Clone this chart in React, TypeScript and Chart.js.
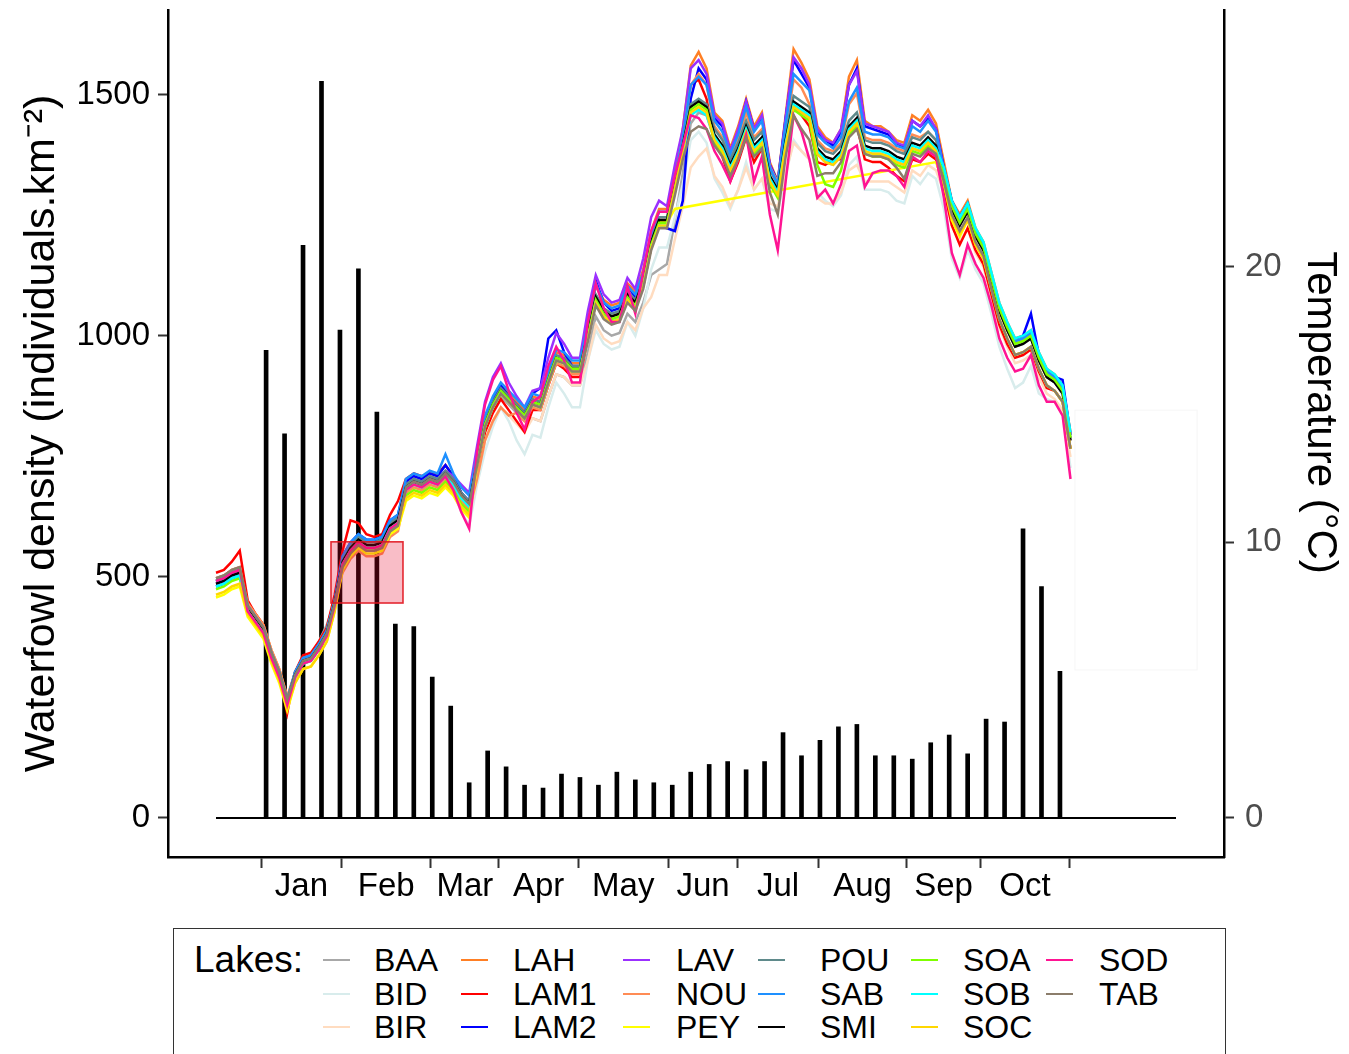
import React, { useEffect, useRef } from 'react';
import { Chart, registerables } from 'chart.js';

Chart.register(...registerables);

const FONT = '"Liberation Sans", Arial, Helvetica, sans-serif';

// ---- x axis: day index of the study year ----
const X_MIN = -18.2;
const X_MAX = 382.2;
const MONTH_BREAKS = [17.1, 47.7, 81.4, 107.3, 137.4, 171.4, 197.9, 228.3, 262.0, 289.7, 323.7];
const MONTHS = ['Jan', 'Feb', 'Mar', 'Apr', 'May', 'Jun', 'Jul', 'Aug', 'Sep', 'Oct'];
const DATA_SPAN = [0, 364];

// ---- waterfowl density (weekly bars, left axis) ----
const BAR_DAYS = [19, 26, 33, 40, 47, 54, 61, 68, 75, 82, 89, 96, 103, 110, 117, 124, 131, 138, 145, 152, 159, 166, 173, 180, 187, 194, 201, 208, 215, 222, 229, 236, 243, 250, 257, 264, 271, 278, 285, 292, 299, 306, 313, 320];
const DENSITY = [970, 797, 1188, 1528, 1012, 1139, 842, 402, 397, 292, 232, 73, 139, 106, 68, 62, 91, 84, 68, 95, 79, 73, 68, 95, 111, 117, 100, 117, 177, 129, 161, 189, 194, 129, 129, 122, 156, 172, 133, 205, 199, 600, 480, 304];
const DENSITY_TICKS = [0, 500, 1000, 1500];
const Y_MIN = -81;
const Y_MAX = 1676;

// ---- temperature (lines, right axis) ----
const T_MIN = -1.417;
const T_MAX = 29.32;
const TEMP_TICKS = [0, 10, 20];
const TEMP_DAYS = Array.from({ length: 109 }, (_, i) => i * 3);

const BAA = [8.7,8.8,9.0,9.1,7.6,7.2,6.8,5.9,5.2,4.2, 5.3,5.8,5.9,6.4,7.0,7.9,9.2,9.7,10.0,9.8, 9.8,9.9,10.5,10.7,12.0,12.2,12.1,12.3,12.2,12.5, 12.2,11.7,11.4,12.7,14.1,14.8,15.3,15.0,14.7,14.4, 14.5,14.4,15.3,16.1,16.0,15.7,15.7,16.9,18.2,17.7, 17.5,17.6,18.3,18.0,18.7,19.7,19.9,20.1,21.7,23.4, 25.2,25.6,25.5,24.6,24.2,23.5,24.1,24.9,24.2,24.5, 23.1,22.6,24.4,25.8,25.6,25.4,24.1,23.8,23.7,24.0, 24.9,25.2,24.2,24.1,24.1,24.0,23.8,23.7,24.3,24.2, 24.5,24.2,23.3,22.1,21.5,22.0,21.1,20.6,19.5,18.4, 17.7,17.1,17.2,17.4,16.6,16.0,15.8,15.4,13.7];
const BID = [8.6,8.7,8.9,9.0,7.6,7.2,6.8,5.9,5.2,4.2, 5.2,5.7,5.8,6.2,6.7,7.8,9.3,9.6,9.9,9.9, 9.9,10.0,10.6,10.8,11.8,12.0,11.9,12.1,12.0,12.3, 11.8,11.1,10.6,12.1,13.3,14.2,14.9,14.4,13.7,13.2, 13.9,13.8,14.9,15.8,15.4,14.9,14.9,16.6,17.7,17.2, 17.0,17.1,18.0,17.5,18.5,19.9,20.7,20.7,21.8,23.0, 24.6,24.9,24.5,23.2,22.7,22.1,22.8,23.8,22.8,23.2, 22.1,22.0,23.3,24.6,24.2,23.9,22.7,22.4,22.2,22.6, 23.7,24.0,22.8,22.8,22.8,22.7,22.4,22.3,23.3,23.0, 23.4,23.2,22.1,20.3,19.6,20.6,19.9,19.4,18.3,17.1, 16.3,15.6,15.8,16.4,15.4,15.2,15.1,14.8,12.7];
const BIR = [8.5,8.6,8.8,8.9,7.7,7.3,6.9,6.0,5.3,4.3, 5.2,5.7,5.8,6.2,6.7,7.8,9.1,9.6,9.9,9.7, 9.7,9.8,10.4,10.6,11.7,11.9,11.8,12.0,11.9,12.2, 11.9,11.3,10.9,12.3,13.7,14.4,14.9,14.6,14.3,14.0, 14.5,14.4,15.3,16.1,16.0,15.7,15.7,16.6,17.9,17.4, 17.2,17.3,18.0,17.7,18.5,18.9,19.7,19.7,21.0,22.2, 23.6,24.0,24.3,23.3,22.9,22.2,22.8,23.6,22.8,23.2, 22.3,22.2,23.4,24.5,24.2,23.9,22.5,22.3,22.3,22.7, 23.5,23.7,23.1,23.1,23.1,23.1,22.9,22.7,23.5,23.3, 23.7,23.5,22.7,21.5,20.9,21.4,20.5,20.0,18.9,17.8, 17.1,16.5,16.6,16.8,16.0,15.4,15.2,14.8,13.1];
const LAH = [8.6,8.7,8.9,9.0,7.8,7.4,7.0,6.1,5.4,4.4, 5.2,5.7,5.8,6.2,6.7,7.8,9.4,9.9,10.2,10.0, 10.0,10.1,10.7,10.9,12.0,12.2,12.1,12.3,12.2,12.5, 12.2,11.7,11.4,13.1,14.5,15.2,15.7,15.4,15.1,14.8, 15.3,15.2,16.1,16.9,16.8,16.5,16.5,18.0,19.3,18.8, 18.6,18.7,19.4,19.1,19.9,21.3,22.1,22.1,23.3,25.0, 27.3,27.8,27.2,25.6,25.3,24.3,25.1,26.1,25.1,25.6, 23.8,23.1,25.5,27.9,27.4,26.8,25.1,24.7,24.5,25.0, 26.9,27.5,25.3,25.1,25.1,24.9,24.6,24.5,25.5,25.3, 25.7,25.2,23.8,22.4,21.9,22.4,21.4,20.9,19.8,18.7, 18.0,17.4,17.5,17.7,16.9,16.3,16.1,15.7,14.0];
const LAM1 = [8.9,9.0,9.3,9.7,7.9,7.4,7.0,6.0,5.2,3.8, 5.3,5.9,6.0,6.4,6.9,8.1,9.7,10.8,10.7,10.3, 10.2,10.3,11.0,11.5,12.3,12.5,12.4,12.5,12.5,12.8, 12.4,11.8,11.4,12.7,14.0,14.7,15.2,14.8,14.4,14.0, 14.8,14.8,15.7,16.5,16.3,16.0,16.0,17.4,18.7,18.2, 18.0,18.1,18.8,18.5,19.3,20.7,21.6,21.7,23.2,24.9, 26.6,26.8,26.1,24.5,24.0,23.1,23.8,24.7,23.8,24.3, 22.9,22.8,24.3,25.8,25.5,25.1,23.8,23.7,23.9,23.9, 24.9,25.1,23.9,23.8,23.8,23.6,23.3,23.1,23.9,23.8, 24.1,23.9,22.8,21.5,20.8,21.4,20.6,20.1,19.0,17.9, 17.2,16.7,16.8,17.0,16.2,15.6,15.5,15.1,13.4];
const LAM2 = [8.4,8.5,8.7,8.8,7.6,7.2,6.8,5.9,5.2,4.2, 5.3,5.8,5.9,6.3,6.8,7.9,9.5,10.0,10.3,10.1, 10.1,10.2,10.8,11.0,12.2,12.4,12.3,12.5,12.4,12.8, 12.4,11.8,11.5,13.1,14.5,15.2,15.7,15.3,15.0,14.7, 15.4,15.6,17.4,17.7,16.9,16.4,16.4,17.9,19.5,18.7, 18.4,18.5,19.3,18.9,19.6,20.9,21.5,21.4,21.3,22.4, 26.1,27.2,26.8,25.4,25.1,24.2,24.9,26.0,25.0,25.4, 23.7,23.1,25.4,27.5,27.0,26.5,24.9,24.6,24.4,24.9, 26.6,27.2,25.1,25.0,24.9,24.8,24.5,24.3,25.3,25.1, 25.4,25.0,23.6,22.4,21.8,22.3,21.3,20.8,19.7,18.6, 17.9,17.3,17.5,18.3,16.8,16.2,16.0,15.9,13.9];
const LAV = [8.5,8.6,8.8,8.9,7.6,7.2,6.8,5.9,5.2,4.2, 5.2,5.7,5.8,6.2,6.7,7.8,9.3,9.8,10.1,9.9, 9.9,10.0,10.6,10.8,12.1,12.3,12.2,12.4,12.3,12.6, 12.4,12.1,11.8,13.5,15.1,16.0,16.5,15.8,15.3,14.9, 15.5,15.6,16.7,17.6,17.2,16.7,16.7,18.4,19.7,19.0, 18.7,18.8,19.6,19.2,20.3,21.8,22.4,22.2,23.7,25.0, 27.2,27.5,27.0,25.5,25.2,24.2,25.0,26.0,25.0,25.5, 23.7,23.0,25.4,27.6,27.2,26.6,25.0,24.6,24.5,25.0, 26.6,27.1,25.2,25.1,25.0,24.9,24.5,24.4,25.3,25.1, 25.5,25.0,23.5,22.3,21.7,22.2,21.3,20.8,19.7,18.6, 17.9,17.3,17.4,17.6,16.8,16.2,16.0,15.6,13.9];
const NOU = [8.7,8.8,9.0,9.1,7.8,7.4,7.0,6.1,5.4,4.4, 5.3,5.8,5.9,6.3,6.8,7.9,8.9,9.4,9.7,9.5, 9.5,9.6,10.2,10.4,11.8,12.0,11.9,12.1,12.0,12.3, 12.0,11.5,11.2,12.3,13.7,14.4,14.9,14.6,14.7,14.4, 14.9,14.8,15.7,16.5,16.4,16.1,16.1,17.6,18.9,18.4, 18.2,18.3,19.0,18.7,19.5,20.9,21.7,21.7,23.2,24.7, 26.6,27.0,26.6,25.1,24.7,24.0,24.6,25.6,24.7,25.0, 23.6,23.1,24.9,26.8,26.5,25.9,24.6,24.3,24.2,24.5, 25.9,26.3,24.7,24.6,24.6,24.5,24.3,24.2,24.8,24.7, 24.9,24.6,23.5,22.3,21.7,22.2,21.3,20.8,19.7,18.6, 17.9,17.3,17.4,17.6,16.8,16.2,16.0,15.6,13.9];
const PEY = [8.0,8.1,8.3,8.4,7.3,6.9,6.5,5.6,4.9,3.9, 4.9,5.4,5.5,5.9,6.4,7.5,9.0,9.5,9.8,9.6, 9.6,9.7,10.3,10.5,11.5,11.7,11.6,11.8,11.7,12.0, 11.7,11.2,10.9,12.8,14.2,14.9,15.4,15.1,14.8,14.5, 15.0,14.9,15.8,16.6,16.5,16.2,16.2,17.5,18.8,18.3, 18.1,18.2,18.9,18.6,19.4,20.8,21.6,21.6,22.1,null, null,null,null,null,null,null,null,null,null,null, null,null,null,null,null,null,null,null,null,null, null,null,null,null,null,null,null,null,null,null, null,23.8,23.0,21.7,21.1,21.7,20.8,20.3,19.2,18.1, 17.4,16.8,16.9,17.1,16.3,15.7,15.5,15.1,13.4];
const POU = [8.6,8.7,8.9,9.0,7.7,7.3,6.9,6.0,5.3,4.3, 5.3,5.8,5.9,6.3,6.8,7.9,9.4,9.9,10.2,10.0, 10.0,10.1,10.7,10.9,12.1,12.3,12.2,12.4,12.3,12.6, 12.3,11.8,11.5,13.0,14.4,15.1,15.6,15.3,15.0,14.7, 15.2,15.1,16.0,16.8,16.7,16.4,16.4,17.7,19.0,18.5, 18.3,18.4,19.1,18.8,19.6,21.0,21.8,21.8,23.1,24.5, 25.9,26.1,25.9,25.0,24.6,23.9,24.5,25.3,24.6,24.9, 23.5,23.0,24.8,26.2,26.0,25.8,24.5,24.2,24.1,24.4, 25.3,25.6,24.6,24.5,24.5,24.4,24.2,24.1,24.7,24.6, 24.9,24.6,23.4,22.2,21.6,22.1,21.2,20.7,19.6,18.5, 17.8,17.2,17.3,17.5,16.7,16.1,15.9,15.5,13.8];
const SAB = [8.6,8.7,8.9,9.0,7.7,7.3,6.9,6.0,5.3,4.3, 5.3,5.8,5.9,6.3,6.8,7.9,9.5,10.0,10.3,10.1, 10.1,10.2,10.8,11.0,12.3,12.5,12.4,12.6,12.5,13.2, 12.5,12.0,11.7,13.2,14.6,15.3,15.8,15.5,15.2,14.9, 15.4,15.3,16.2,17.0,16.9,16.6,16.6,17.9,19.4,18.7, 18.5,18.6,19.3,19.0,19.8,21.2,22.0,22.0,23.2,24.7, 26.6,26.9,26.6,25.3,24.9,24.1,24.8,25.8,24.9,25.3, 23.6,23.0,25.2,27.0,26.7,26.4,24.8,24.5,24.3,24.7, 26.0,26.5,24.9,24.8,24.8,24.7,24.4,24.3,25.1,24.9, 25.3,24.9,23.5,22.3,21.7,22.2,21.3,20.8,19.7,18.6, 17.9,17.3,17.4,17.6,16.8,16.2,16.0,15.6,13.9];
const SMI = [8.5,8.6,8.8,8.9,7.6,7.2,6.8,5.9,5.2,4.2, 5.2,5.7,5.8,6.2,6.7,7.8,9.3,9.8,10.1,9.9, 9.9,10.0,10.6,10.8,12.0,12.2,12.1,12.3,12.2,12.5, 12.2,11.7,11.4,12.9,14.3,15.0,15.5,15.2,14.9,14.6, 15.1,15.0,15.9,16.7,16.6,16.3,16.3,17.6,18.9,18.4, 18.2,18.3,19.0,18.7,19.5,20.9,21.7,21.7,23.0,24.4, 25.8,26.0,25.8,24.8,24.4,23.7,24.3,25.1,24.4,24.7, 23.3,22.8,24.6,26.0,25.8,25.6,24.3,24.0,23.9,24.2, 25.1,25.4,24.4,24.3,24.3,24.2,24.0,23.9,24.5,24.4, 24.7,24.4,23.3,22.1,21.5,22.0,21.1,20.6,19.5,18.4, 17.7,17.1,17.2,17.4,16.6,16.0,15.8,15.4,13.7];
const SOA = [8.3,8.4,8.6,8.7,7.5,7.1,6.7,5.8,5.1,4.1, 5.1,5.6,5.7,6.1,6.6,7.7,9.2,9.7,10.0,9.8, 9.8,9.9,10.5,10.7,11.7,11.9,11.8,12.0,11.9,12.2, 11.9,11.4,11.1,12.9,14.3,15.0,15.5,15.2,14.9,14.6, 15.1,15.0,15.9,16.7,16.6,16.3,16.3,17.5,18.8,18.3, 18.1,18.2,18.9,18.6,19.4,20.8,21.6,21.6,22.9,24.3, 25.7,25.9,25.7,24.5,24.1,23.4,24.0,24.8,24.1,24.4, 23.0,22.5,24.3,25.7,25.5,25.3,23.7,23.0,22.9,23.5, 24.8,25.1,24.1,24.0,24.0,23.9,23.7,23.6,24.2,24.1, 24.4,24.1,23.4,22.2,21.6,22.1,21.2,20.7,19.6,18.5, 17.8,17.2,17.3,17.5,16.7,16.1,15.9,15.5,13.8];
const SOB = [8.4,8.5,8.7,8.8,7.5,7.1,6.7,5.8,5.1,4.1, 5.1,5.6,5.7,6.1,6.6,7.7,9.2,9.7,10.0,9.8, 9.8,9.9,10.5,10.7,11.9,12.1,12.0,12.2,12.1,12.4, 12.1,11.6,11.3,12.8,14.2,14.9,15.4,15.1,14.8,14.5, 15.0,14.9,15.8,16.6,16.5,16.2,16.2,17.4,18.7,18.2, 18.0,18.1,18.8,18.5,19.3,20.7,21.5,21.5,22.7,24.1, 25.5,25.7,25.5,24.7,24.3,23.6,24.2,25.0,24.3,24.6, 23.2,22.7,24.5,25.9,25.7,25.5,24.2,23.9,23.8,24.1, 25.0,25.3,24.3,24.2,24.2,24.1,23.9,23.8,24.4,24.3, 24.6,24.3,23.6,22.4,21.8,22.3,21.4,20.9,19.8,18.7, 18.0,17.4,17.5,17.7,16.9,16.3,16.1,15.7,14.0];
const SOC = [8.1,8.2,8.4,8.5,7.4,7.0,6.6,5.7,5.0,4.0, 4.9,5.4,5.5,5.9,6.4,7.5,9.1,9.6,9.9,9.7, 9.7,9.8,10.4,10.6,11.6,11.8,11.7,11.9,11.8,12.1, 11.8,11.3,11.0,12.8,14.2,14.9,15.4,15.1,14.8,14.5, 15.0,14.9,15.8,16.6,16.5,16.2,16.2,17.4,18.7,18.2, 18.0,18.1,18.8,18.5,19.3,20.7,21.5,21.5,22.8,24.2, 25.6,25.8,25.6,24.6,24.2,23.5,24.1,24.9,24.2,24.5, 23.1,22.6,24.4,25.8,25.6,25.4,24.1,23.8,23.7,24.0, 24.9,25.2,24.2,24.1,24.1,24.0,23.8,23.7,24.3,24.2, 24.5,24.2,23.0,21.8,21.2,21.7,20.8,20.3,19.2,18.1, 17.4,16.8,16.9,17.1,16.3,15.7,15.5,15.1,13.4];
const SOD = [8.6,8.7,8.9,9.0,7.5,7.1,6.7,5.8,5.1,4.1, 5.1,5.6,5.7,6.1,6.6,7.7,9.2,9.7,10.0,9.8, 9.8,9.9,10.5,10.7,11.9,12.1,12.0,12.2,12.1,12.4, 11.9,11.1,10.5,13.3,15.0,15.9,16.4,15.5,14.7,14.1, 15.1,15.3,16.4,17.1,16.6,15.8,15.8,18.0,19.4,18.5, 18.0,18.0,19.3,18.3,19.8,21.3,22.0,22.0,23.3,24.4, 25.5,25.4,25.0,24.2,23.7,23.1,23.9,24.8,23.1,24.0, 21.9,20.6,23.1,25.5,24.9,23.9,22.5,22.8,22.3,23.0, 24.2,24.4,22.9,23.4,23.5,23.5,23.3,22.9,24.0,23.8, 24.2,24.0,22.5,20.5,19.7,20.8,20.1,19.6,18.6,17.4, 16.7,16.2,16.3,16.8,15.7,15.1,15.1,14.6,12.3];
const TAB = [8.7,8.8,9.0,9.1,7.7,7.3,6.9,6.0,5.3,4.3, 5.2,5.7,5.8,6.2,6.7,7.8,9.1,9.6,9.9,9.7, 9.7,9.8,10.4,10.6,12.0,12.2,12.1,12.3,12.2,12.5, 12.2,11.7,11.4,12.8,14.2,14.9,15.4,15.1,14.8,14.5, 15.0,14.9,15.8,16.6,16.5,16.2,16.2,17.3,18.6,18.1, 17.9,18.0,18.7,18.4,19.2,20.6,21.4,21.4,22.6,23.9, 24.9,25.1,25.0,24.4,24.0,23.3,23.9,24.7,24.0,24.3, 22.7,21.9,24.0,25.5,25.0,24.6,23.3,23.4,23.4,23.8, 24.7,25.0,24.1,24.0,24.0,23.9,23.6,23.2,24.1,24.0, 24.3,24.1,23.1,21.9,21.3,21.8,20.9,20.4,19.2,18.1, 17.4,16.8,16.9,17.1,16.3,15.7,15.5,15.1,13.4];

const LAKES = ['BAA', 'BID', 'BIR', 'LAH', 'LAM1', 'LAM2', 'LAV', 'NOU', 'PEY', 'POU', 'SAB', 'SMI', 'SOA', 'SOB', 'SOC', 'SOD', 'TAB'];
const LAKE_VALUES = [BAA, BID, BIR, LAH, LAM1, LAM2, LAV, NOU, PEY, POU, SAB, SMI, SOA, SOB, SOC, SOD, TAB];
const LAKE_COLORS = ['#A8A8A8', '#D8ECEC', '#FFDCC0', '#FF7F24', '#FF0000', '#0000FF', '#9B30FF', '#FF8C55', '#FFFF00', '#5F8A8B', '#1E90FF', '#000000', '#7FFF00', '#00FFFF', '#FFD700', '#FF1493', '#8B7D6B'];

// highlighted window (days, °C) and a faint empty frame
const HIGHLIGHT = { d0: 43.6, d1: 70.9, t0: 7.8, t1: 10.02 };
const FAINT_FRAME = { d0: 325.7, d1: 372.0, t0: 5.37, t1: 14.8 };

const MONTH_CENTERS = MONTHS.map((_, i) => (MONTH_BREAKS[i] + MONTH_BREAKS[i + 1]) / 2);

const boxesPlugin = {
  id: 'boxes',
  afterDatasetsDraw(chart: any) {
    const { ctx, scales } = chart;
    const x = scales.x;
    const y2 = scales.y2;
    const rect = (b: any) => {
      const l = x.getPixelForValue(b.d0);
      const r = x.getPixelForValue(b.d1);
      const t = y2.getPixelForValue(b.t1);
      const bt = y2.getPixelForValue(b.t0);
      return [l, t, r - l, bt - t];
    };
    ctx.save();
    const f = rect(FAINT_FRAME);
    ctx.strokeStyle = 'rgba(0,0,0,0.04)';
    ctx.lineWidth = 1;
    ctx.strokeRect(f[0], f[1], f[2], f[3]);
    const h = rect(HIGHLIGHT);
    ctx.fillStyle = 'rgba(230,0,40,0.26)';
    ctx.fillRect(h[0], h[1], h[2], h[3]);
    ctx.strokeStyle = 'rgba(225,20,30,0.9)';
    ctx.lineWidth = 1.6;
    ctx.strokeRect(h[0], h[1], h[2], h[3]);
    ctx.restore();
  },
};

function Legend() {
  const colKey = [322, 460, 622, 757, 910, 1045];
  const colLabel = [373, 512, 675, 819, 962, 1098];
  const rowY = [959, 993, 1026];
  const boxLeft = 173;
  const boxTop = 928;
  return (
    <div
      style={{
        position: 'absolute',
        left: boxLeft,
        top: boxTop,
        width: 1226 - boxLeft,
        height: 150,
        border: '1.5px solid #333',
        boxSizing: 'border-box',
        fontFamily: FONT,
        color: '#000',
      }}
    >
      <div style={{ position: 'absolute', left: 193 - boxLeft, top: rowY[0] - boxTop - 22, height: 44, lineHeight: '44px', fontSize: 37 }}>Lakes:</div>
      {LAKES.map((name, i) => {
        const c = Math.floor(i / 3);
        const r = i % 3;
        return (
          <React.Fragment key={name}>
            <div
              style={{
                position: 'absolute',
                left: colKey[c] - boxLeft,
                top: rowY[r] - boxTop - 1.5,
                width: 27,
                height: 2.5,
                background: LAKE_COLORS[i],
              }}
            />
            <div
              style={{
                position: 'absolute',
                left: colLabel[c] - boxLeft,
                top: rowY[r] - boxTop - 20,
                height: 40,
                lineHeight: '40px',
                fontSize: 32,
                whiteSpace: 'nowrap',
              }}
            >
              {name}
            </div>
          </React.Fragment>
        );
      })}
    </div>
  );
}

const noEdgePadding = (scale: any) => {
  scale.paddingTop = 0;
  scale.paddingBottom = 0;
  scale.paddingLeft = 0;
  scale.paddingRight = 0;
};

export default function App() {
  const ref = useRef<HTMLCanvasElement>(null);

  useEffect(() => {
    const canvas = ref.current;
    if (!canvas) return;
    Chart.defaults.font.family = FONT;

    const lakeSets = LAKES.map((name, i) => ({
      type: 'line' as const,
      label: name,
      data: TEMP_DAYS.map((d, k) => ({ x: d, y: LAKE_VALUES[i][k] })),
      borderColor: LAKE_COLORS[i],
      backgroundColor: LAKE_COLORS[i],
      borderWidth: 2.5,
      pointRadius: 0,
      tension: 0,
      spanGaps: true,
      yAxisID: 'y2',
      order: 50 - i,
    }));

    const chart = new Chart(canvas, {
      type: 'line',
      data: {
        datasets: [
          {
            type: 'bar' as const,
            label: 'density',
            data: BAR_DAYS.map((d, k) => ({ x: d, y: DENSITY[k] })),
            backgroundColor: '#000',
            borderWidth: 0,
            barThickness: 4,
            yAxisID: 'y',
            order: 100,
          } as any,
          {
            type: 'line' as const,
            label: 'zero',
            data: DATA_SPAN.map((d) => ({ x: d, y: 0 })),
            borderColor: '#000',
            borderWidth: 2,
            pointRadius: 0,
            yAxisID: 'y',
            order: 99,
          },
          ...lakeSets,
        ],
      },
      options: {
        animation: false,
        responsive: false,
        devicePixelRatio: 1,
        layout: { padding: { top: 10, left: 0, right: 0, bottom: 0 } },
        plugins: {
          legend: { display: false },
          tooltip: { enabled: false },
        },
        scales: {
          x: {
            type: 'linear',
            min: X_MIN,
            max: X_MAX,
            offset: false,
            afterBuildTicks: (scale: any) => {
              const all = [...MONTH_BREAKS, ...MONTH_CENTERS].sort((a, b) => a - b);
              scale.ticks = all.map((v) => ({ value: v }));
            },
            afterFit: (scale: any) => {
              scale.height = 63;
              noEdgePadding(scale);
            },
            ticks: {
              autoSkip: false,
              maxRotation: 0,
              minRotation: 0,
              padding: -1,
              color: '#000',
              font: { size: 33 },
              callback: (value: any) => {
                const idx = MONTH_CENTERS.findIndex((c) => Math.abs(c - Number(value)) < 1e-6);
                return idx >= 0 ? MONTHS[idx] : '';
              },
            },
            grid: {
              offset: false,
              drawOnChartArea: false,
              drawTicks: true,
              tickLength: 11,
              tickWidth: 2,
              tickColor: (ctx: any) => {
                const v = ctx.tick ? ctx.tick.value : NaN;
                return MONTH_BREAKS.some((b) => Math.abs(b - v) < 1e-6) ? '#333' : 'rgba(0,0,0,0)';
              },
            },
            border: { display: true, color: '#000', width: 2.5 },
          },
          y: {
            type: 'linear',
            position: 'left',
            min: Y_MIN,
            max: Y_MAX,
            afterBuildTicks: (scale: any) => {
              scale.ticks = DENSITY_TICKS.map((v) => ({ value: v }));
            },
            afterFit: (scale: any) => {
              scale.width = 168;
              noEdgePadding(scale);
            },
            ticks: {
              color: '#000',
              padding: 8,
              font: { size: 33 },
              callback: (value: any) => String(value),
            },
            grid: {
              drawOnChartArea: false,
              drawTicks: true,
              tickLength: 10,
              tickWidth: 2,
              tickColor: '#333',
            },
            border: { display: true, color: '#000', width: 2.5 },
            title: {
              display: true,
              text: 'Waterfowl density (individuals.km⁻²)',
              color: '#000',
              font: { size: 43 },
              padding: { top: 16, bottom: 0 },
            },
          },
          y2: {
            type: 'linear',
            position: 'right',
            min: T_MIN,
            max: T_MAX,
            afterBuildTicks: (scale: any) => {
              scale.ticks = TEMP_TICKS.map((v) => ({ value: v }));
            },
            afterFit: (scale: any) => {
              scale.width = 125;
              noEdgePadding(scale);
            },
            ticks: {
              color: '#4D4D4D',
              padding: 11,
              font: { size: 33 },
              callback: (value: any) => String(value),
            },
            grid: {
              drawOnChartArea: false,
              drawTicks: true,
              tickLength: 10,
              tickWidth: 2,
              tickColor: '#333',
            },
            border: { display: true, color: '#000', width: 2.5 },
            title: {
              display: true,
              text: 'Temperature (°C)\u2002\u2002',
              color: '#000',
              font: { size: 42 },
              padding: { top: 4, bottom: 0 },
            },
          },
        },
      } as any,
      plugins: [boxesPlugin],
    });

    return () => chart.destroy();
  }, []);

  return (
    <div
      style={{
        position: 'absolute',
        left: 0,
        top: 0,
        width: 1349,
        height: 1054,
        overflow: 'hidden',
        background: '#fff',
      }}
    >
      <canvas ref={ref} width={1349} height={920} style={{ position: 'absolute', left: 0, top: 0, width: 1349, height: 920 }} />
      <Legend />
    </div>
  );
}
